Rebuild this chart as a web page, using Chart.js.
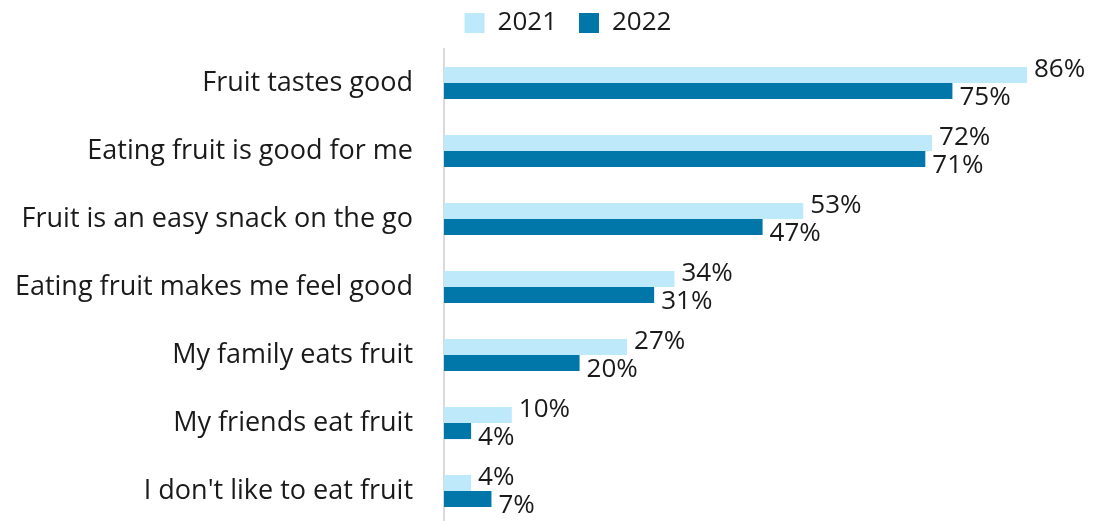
<!DOCTYPE html>
<html>
<head>
<meta charset="utf-8">
<script src="https://cdn.jsdelivr.net/npm/chart.js@4/dist/chart.umd.min.js"></script>
<style>
  html, body { margin: 0; padding: 0; background: #fff; overflow: hidden; }
  canvas { display: block; }
</style>
</head>
<body>
<canvas id="reasons" width="1099" height="525"></canvas>
<script>
const reasons = [
  "Fruit tastes good",
  "Eating fruit is good for me",
  "Fruit is an easy snack on the go",
  "Eating fruit makes me feel good",
  "My family eats fruit",
  "My friends eat fruit",
  "I don't like to eat fruit"
];
const years = ["2021", "2022"];
const values2021 = [86, 72, 53, 34, 27, 10, 4];
const values2022 = [75, 71, 47, 31, 20, 4, 7];

const FONT = "'Open Sans', sans-serif";
const INK = "#1a1a1a";

// percent labels just past the end of each bar, 2021 nudged up, 2022 down
const barLabels = {
  id: "barLabels",
  afterDatasetsDraw(chart) {
    const ctx = chart.ctx;
    ctx.save();
    ctx.font = "26px " + FONT;
    ctx.fillStyle = INK;
    ctx.textAlign = "left";
    ctx.textBaseline = "middle";
    chart.data.datasets.forEach((ds, i) => {
      const dy = i === 0 ? -5 : 7;
      chart.getDatasetMeta(i).data.forEach((bar, j) => {
        ctx.fillText(ds.data[j] + "%", bar.x + 7, bar.y + dy);
      });
    });
    ctx.restore();
  }
};

// legend: fixed height, then moved a bit up and to the right
const legendPlace = {
  id: "legendPlace",
  beforeInit(chart) {
    const fit = chart.legend.fit;
    chart.legend.fit = function () {
      fit.bind(chart.legend)();
      this.height = 49;
    };
  },
  afterLayout(chart) {
    const lg = chart.legend;
    lg.left += 24; lg.right += 24;
    lg.top -= 12; lg.bottom -= 12;
  }
};

new Chart(document.getElementById("reasons"), {
  type: "bar",
  data: {
    labels: reasons,
    datasets: [
      { label: years[0], data: values2021, backgroundColor: "#bde9fb" },
      { label: years[1], data: values2022, backgroundColor: "#0077a8" }
    ]
  },
  options: {
    indexAxis: "y",
    responsive: false,
    animation: false,
    layout: { padding: { left: 0, right: 11, top: 0, bottom: 0 } },
    datasets: { bar: { barPercentage: 1, categoryPercentage: 0.472 } },
    scales: {
      x: { min: 0, max: 95, display: false },
      y: {
        grid: { display: false },
        border: { display: true, color: "#d9d9d9", width: 2 },
        ticks: { color: INK, font: { family: FONT, size: 27 }, padding: 23 },
        afterFit(scale) {
          scale.width = 444;
          scale.paddingTop = 0;
          scale.paddingBottom = 0;
        }
      }
    },
    plugins: {
      legend: {
        position: "top",
        labels: {
          color: INK,
          font: { family: FONT, size: 26 },
          boxWidth: 20,
          boxHeight: 20,
          padding: 22
        }
      },
      tooltip: { enabled: false }
    }
  },
  plugins: [barLabels, legendPlace]
});
</script>
</body>
</html>
